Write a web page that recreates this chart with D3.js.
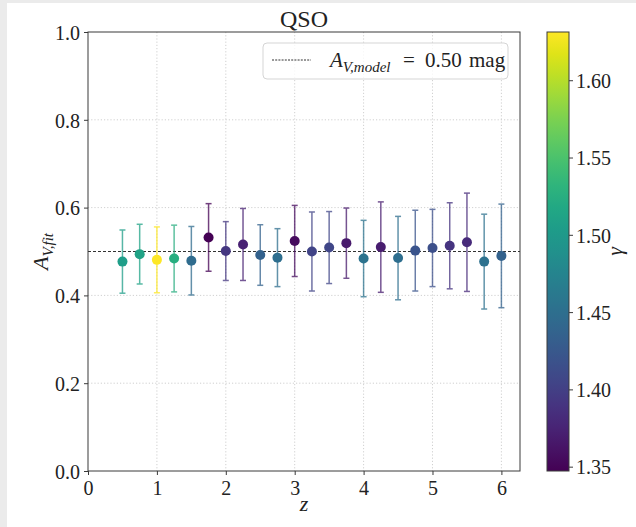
<!DOCTYPE html>
<html lang="en">
<head>
<meta charset="UTF-8">
<title>QSO A_V fit</title>
<script src="https://d3js.org/d3.v7.min.js"></script>
<style>
    body { margin: 0; background: #ebebeb; }
    svg { display: block; }
    text { font-family: 'Liberation Serif', 'DejaVu Serif', serif; fill: #222; }
</style>
</head>
<body>
<svg id="chart" width="636" height="527"></svg>
<script>
// redshift bins
const zVals = [0.5, 0.75, 1.0, 1.25, 1.5, 1.75, 2.0, 2.25, 2.5, 2.75, 3.0, 3.25,
               3.5, 3.75, 4.0, 4.25, 4.5, 4.75, 5.0, 5.25, 5.5, 5.75, 6.0];
// fitted A_V and its error
const avFit = [0.477, 0.494, 0.481, 0.484, 0.479, 0.532, 0.501, 0.516, 0.492, 0.486, 0.524, 0.500,
               0.509, 0.519, 0.484, 0.510, 0.485, 0.502, 0.508, 0.513, 0.521, 0.477, 0.490];
const avErr = [0.072, 0.068, 0.075, 0.076, 0.078, 0.077, 0.067, 0.082, 0.069, 0.066, 0.081, 0.090,
               0.082, 0.080, 0.087, 0.103, 0.095, 0.092, 0.088, 0.098, 0.112, 0.108, 0.118];
// gamma, used for colour
const gammaVals = [1.505, 1.512, 1.631, 1.525, 1.446, 1.347, 1.392, 1.373, 1.435, 1.449, 1.356, 1.404,
                   1.407, 1.367, 1.455, 1.370, 1.449, 1.421, 1.415, 1.390, 1.381, 1.452, 1.435];
const avModel = 0.50;

const xTicks = [0, 1, 2, 3, 4, 5, 6];
const yTicks = [0.0, 0.2, 0.4, 0.6, 0.8, 1.0];
const cbTicks = [1.35, 1.40, 1.45, 1.50, 1.55, 1.60];

const svg = d3.select("#chart");
// white figure area, grey strip left/top like the original crop
svg.append("rect").attr("x", 7).attr("y", 3).attr("width", 629).attr("height", 524).attr("fill", "#fff");

const plot = { left: 88, right: 520, top: 32, bottom: 471 };
const x = d3.scaleLinear().domain([0, 6.27]).range([plot.left, plot.right]);
const y = d3.scaleLinear().domain([0, 1]).range([plot.bottom, plot.top]);

const gMin = 1.3472, gMax = 1.6312;
const color = d3.scaleSequential(d3.interpolateViridis).domain([gMin, gMax]);

const axisColor = "#3a3a3a";
const fontSize = 20;

// grid
const grid = svg.append("g");
grid.selectAll(".gx").data(xTicks.slice(1)).enter().append("line")
    .attr("x1", d => x(d)).attr("x2", d => x(d))
    .attr("y1", plot.top).attr("y2", plot.bottom)
    .attr("stroke", "#c4c4c4").attr("stroke-width", 0.8).attr("stroke-dasharray", "1.2,2");
grid.selectAll(".gy").data(yTicks.slice(1, -1)).enter().append("line")
    .attr("x1", plot.left).attr("x2", plot.right)
    .attr("y1", d => y(d)).attr("y2", d => y(d))
    .attr("stroke", "#c4c4c4").attr("stroke-width", 0.8).attr("stroke-dasharray", "1.2,2");

// model line
svg.append("line")
    .attr("x1", plot.left).attr("x2", plot.right)
    .attr("y1", y(avModel)).attr("y2", y(avModel))
    .attr("stroke", "#333").attr("stroke-width", 1.1).attr("stroke-dasharray", "3,2");

// error bars
const pts = zVals.map((z, i) => ({ z: z, v: avFit[i], e: avErr[i], g: gammaVals[i] }));
const eb = svg.append("g").selectAll("g").data(pts).enter().append("g")
    .attr("stroke", d => color(d.g)).attr("stroke-width", 1.5).attr("opacity", 0.75);
eb.append("line")
    .attr("x1", d => x(d.z)).attr("x2", d => x(d.z))
    .attr("y1", d => y(d.v - d.e)).attr("y2", d => y(d.v + d.e));
eb.append("line")
    .attr("x1", d => x(d.z) - 3).attr("x2", d => x(d.z) + 3)
    .attr("y1", d => y(d.v + d.e)).attr("y2", d => y(d.v + d.e));
eb.append("line")
    .attr("x1", d => x(d.z) - 3).attr("x2", d => x(d.z) + 3)
    .attr("y1", d => y(d.v - d.e)).attr("y2", d => y(d.v - d.e));

svg.append("g").selectAll("circle").data(pts).enter().append("circle")
    .attr("cx", d => x(d.z)).attr("cy", d => y(d.v)).attr("r", 5)
    .attr("fill", d => color(d.g));

// axes
const xAxis = svg.append("g").attr("transform", `translate(0,${plot.bottom})`)
    .call(d3.axisBottom(x).tickValues(xTicks).tickFormat(d3.format("d")).tickSizeOuter(0).tickSize(4).tickPadding(4));
const yAxis = svg.append("g").attr("transform", `translate(${plot.left},0)`)
    .call(d3.axisLeft(y).tickValues(yTicks).tickFormat(d3.format(".1f")).tickSizeOuter(0).tickSize(4).tickPadding(4));
[xAxis, yAxis].forEach(a => {
    a.select(".domain").remove();
    a.selectAll("line").attr("stroke", axisColor);
    a.selectAll("text").attr("font-size", fontSize).attr("font-family", "'Liberation Serif', serif").attr("fill", "#222");
});
yAxis.selectAll("text").attr("dy", "0.36em");
xAxis.selectAll("text").attr("dy", "0.78em");

svg.append("rect")
    .attr("x", plot.left).attr("y", plot.top)
    .attr("width", plot.right - plot.left).attr("height", plot.bottom - plot.top)
    .attr("fill", "none").attr("stroke", axisColor).attr("stroke-width", 1);

// title and labels
svg.append("text").attr("x", (plot.left + plot.right) / 2).attr("y", 27)
    .attr("text-anchor", "middle").attr("font-size", 24).text("QSO");

svg.append("text").attr("x", (plot.left + plot.right) / 2).attr("y", 511)
    .attr("text-anchor", "middle").attr("font-size", 22).attr("font-style", "italic").text("z");

const yl = svg.append("text")
    .attr("transform", `translate(48,${(plot.top + plot.bottom) / 2}) rotate(-90)`)
    .attr("text-anchor", "middle").attr("font-size", 22).attr("font-style", "italic");
yl.append("tspan").text("A");
yl.append("tspan").attr("font-size", 15).attr("dy", 5).text("V,fit");

// legend
const leg = svg.append("g");
leg.append("rect").attr("x", 263).attr("y", 43).attr("width", 245).attr("height", 36)
    .attr("rx", 4).attr("fill", "#fff").attr("fill-opacity", 0.8)
    .attr("stroke", "#d5d5d5").attr("stroke-width", 1);
leg.append("line").attr("x1", 272).attr("x2", 311).attr("y1", 60).attr("y2", 60)
    .attr("stroke", "#333").attr("stroke-width", 1).attr("stroke-dasharray", "2,1.2");
const lt = leg.append("text").attr("x", 330).attr("y", 67).attr("font-size", 21);
lt.append("tspan").attr("font-style", "italic").text("A");
lt.append("tspan").attr("font-style", "italic").attr("font-size", 15).attr("dy", 5).text("V,model");
lt.append("tspan").attr("x", 403).attr("dy", -5).text("=");
lt.append("tspan").attr("x", 425).text("0.50");
lt.append("tspan").attr("x", 469).text("mag");

// colorbar
const cb = { left: 547, width: 22, top: plot.top, bottom: plot.bottom };
const cy = d3.scaleLinear().domain([gMin, gMax]).range([cb.bottom, cb.top]);
const grad = svg.append("defs").append("linearGradient").attr("id", "vir")
    .attr("x1", 0).attr("x2", 0).attr("y1", 1).attr("y2", 0);
d3.range(0, 1.0001, 0.05).forEach(t => {
    grad.append("stop").attr("offset", t).attr("stop-color", d3.interpolateViridis(t));
});
svg.append("rect").attr("x", cb.left).attr("y", cb.top)
    .attr("width", cb.width).attr("height", cb.bottom - cb.top)
    .attr("fill", "url(#vir)").attr("stroke", axisColor).attr("stroke-width", 1);
const cAxis = svg.append("g").attr("transform", `translate(${cb.left + cb.width},0)`)
    .call(d3.axisRight(cy).tickValues(cbTicks).tickFormat(d3.format(".2f")).tickSizeOuter(0).tickSize(4).tickPadding(3));
cAxis.select(".domain").remove();
cAxis.selectAll("line").attr("stroke", axisColor);
cAxis.selectAll("text").attr("font-size", fontSize).attr("font-family", "'Liberation Serif', serif")
    .attr("fill", "#222").attr("dy", "0.36em");

svg.append("text")
    .attr("transform", `translate(622,${(cb.top + cb.bottom) / 2}) rotate(-90)`)
    .attr("text-anchor", "middle").attr("font-size", 22).attr("font-style", "italic").text("γ");
</script>
</body>
</html>
